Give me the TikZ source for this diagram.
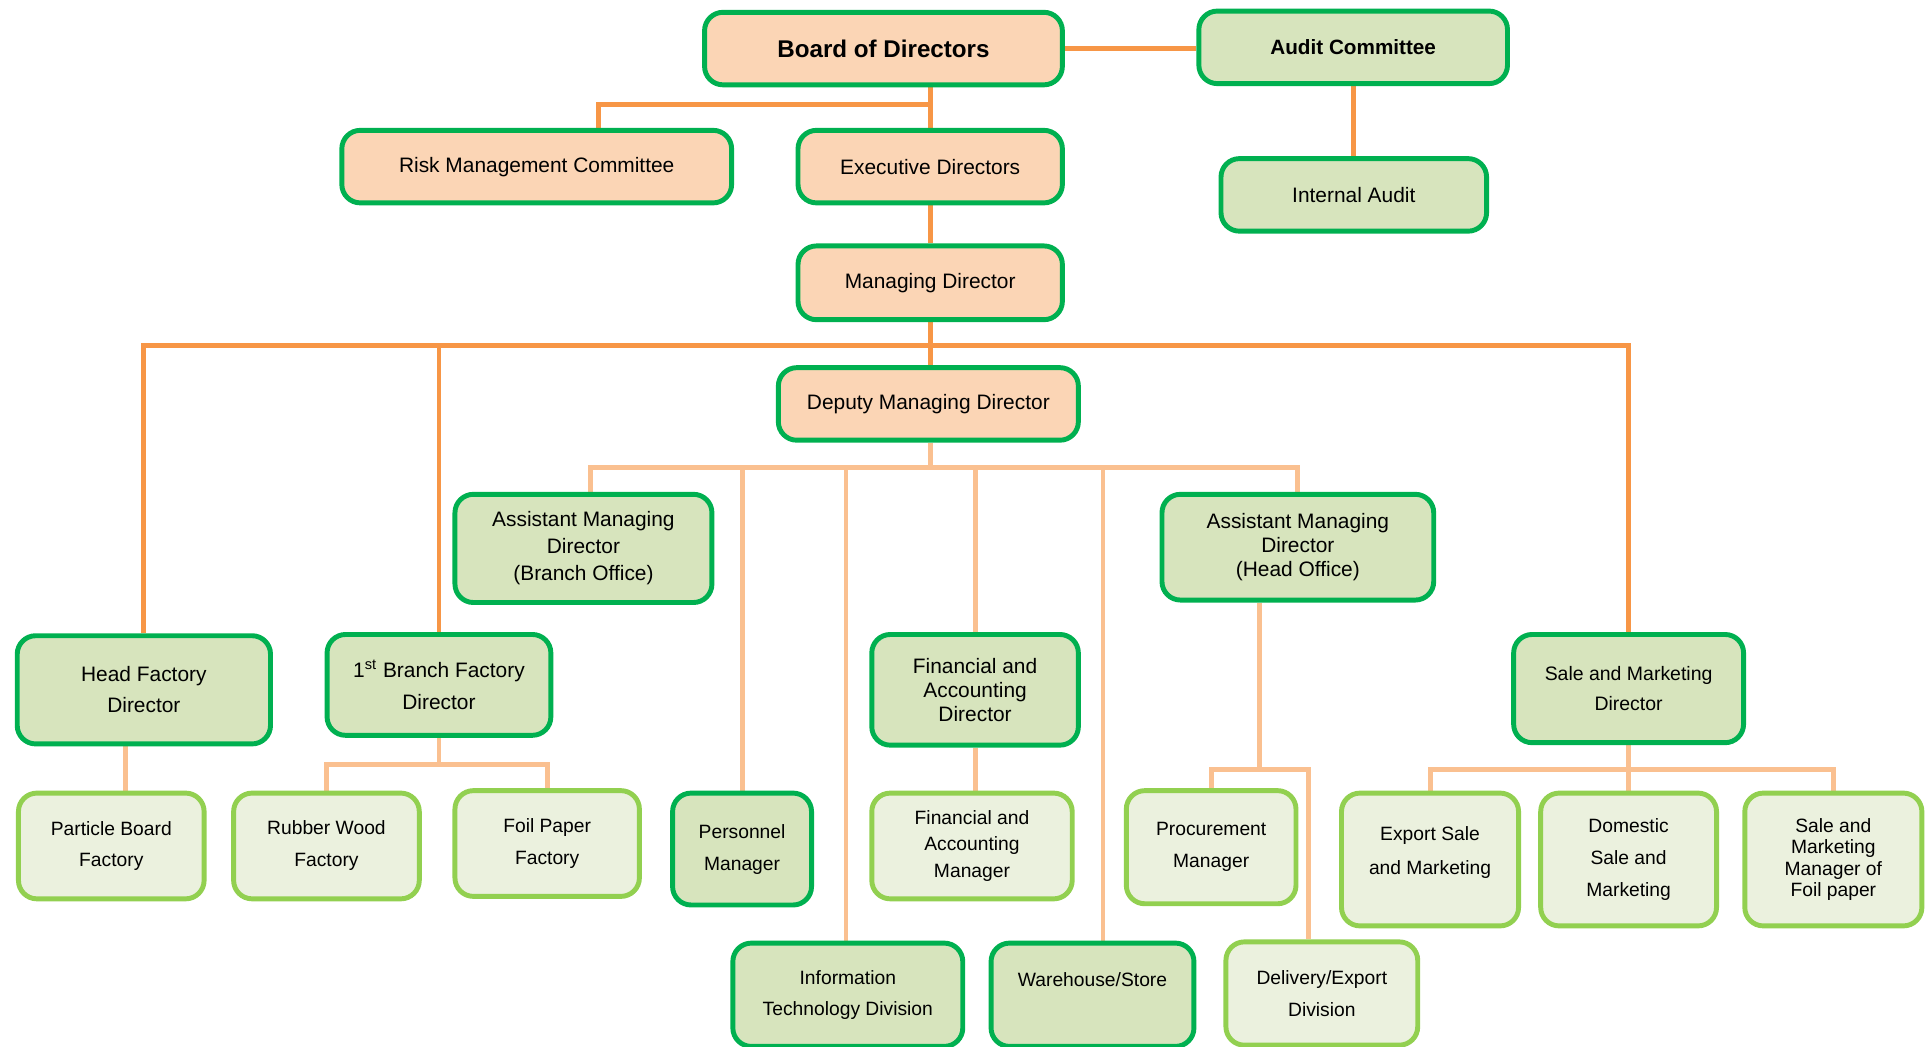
\documentclass[tikz,border=0pt]{standalone}
\usepackage{fontspec}
\setmainfont{Liberation Sans}
\usetikzlibrary{calc, backgrounds, positioning}

\definecolor{boxpeach}{HTML}{FBD5B5}
\definecolor{boxolive}{HTML}{D7E4BD}
\definecolor{boxpale}{HTML}{EBF1DE}
\definecolor{rimdark}{HTML}{00B050}
\definecolor{rimlight}{HTML}{92D050}
\definecolor{linkdark}{HTML}{F79646}
\definecolor{linklight}{HTML}{FAC090}

\tikzset{
  box/.style = {rounded corners = 9pt, line width = 2.4pt, align = center,
    inner sep = 0pt, font = \fontsize{10.2pt}{13pt}\selectfont},
  sz/.style 2 args = {minimum width = (#1-4)*0.6pt, minimum height = (#2-4)*0.6pt},
  fs/.style 2 args = {font = \fontsize{#1pt}{#2pt}\selectfont},
  topbox/.style = {box, draw = rimdark, fill = boxpeach},
  midbox/.style = {box, draw = rimdark, fill = boxolive},
  lowbox/.style = {box, draw = rimlight, fill = boxpale},
  link/.style = {draw = linkdark, line width = 2.4pt},
  sublink/.style = {draw = linklight, line width = 2.4pt}
}

\begin{document}
\begin{tikzpicture}[x = 0.6pt, y = -0.6pt]
    \useasboundingbox (0,0) rectangle (1568,851);
    \clip (0,0) rectangle (1568,851);

    \node[topbox, sz = {295}{63}, font = \fontsize{11.8pt}{14pt}\selectfont\bfseries] (board) at (718.5,39.5) {Board of Directors};
    \node[midbox, sz = {255}{63}, font = \fontsize{10.1pt}{12pt}\selectfont\bfseries] (audit) at (1100.5,38.5) {Audit Committee};
    \node[topbox, sz = {321}{63}] (risk) at (436.5,135.5) {Risk Management Committee};
    \node[topbox, sz = {219}{63}] (exec) at (756.5,135.5) {Executive Directors};
    \node[midbox, sz = {220}{63}] (inaudit) at (1101,158.5) {Internal Audit};
    \node[topbox, sz = {219}{64}] (md) at (756.5,230) {Managing Director};
    \node[topbox, sz = {248}{63}] (dmd) at (755,328.5) {Deputy Managing Director};

    \node[midbox, sz = {213}{92}, fs = {10.2}{13.2}] (amdb) at (474.5,446) {Assistant Managing\\Director\\(Branch Office)};
    \node[midbox, sz = {225}{90}, fs = {10.2}{11.7}] (amdh) at (1055.5,445) {Assistant Managing\\Director\\(Head Office)};
    \node[midbox, sz = {210}{92}, fs = {10.2}{15}] (hfd) at (117,561) {Head Factory\\Director};
    \node[midbox, sz = {186}{86}, fs = {10.2}{15.6}] (bfd) at (357,557) {1\textsuperscript{st} Branch Factory\\Director};
    \node[midbox, sz = {172}{94}, fs = {10.2}{11.7}] (fad) at (793,561) {Financial and\\Accounting\\Director};
    \node[midbox, sz = {191}{92}, fs = {9.5}{15}] (smd) at (1324.5,560) {Sale and Marketing\\Director};

    \node[lowbox, sz = {155}{90}, fs = {9.4}{15}] (pbf) at (90.5,688) {Particle Board\\Factory};
    \node[lowbox, sz = {155}{90}, fs = {9.4}{15.6}] (rwf) at (265.5,688) {Rubber Wood\\Factory};
    \node[lowbox, sz = {154}{90}, fs = {9.4}{15.6}] (fpf) at (445,686) {Foil Paper\\Factory};
    \node[midbox, sz = {117}{95}, fs = {9.4}{15.6}] (pm) at (603.5,690.5) {Personnel\\Manager};
    \node[lowbox, sz = {167}{90}, fs = {9.4}{12.9}] (fam) at (790.5,688) {Financial and\\Accounting\\Manager};
    \node[lowbox, sz = {142}{96}, fs = {9.4}{15.6}] (proc) at (985,689) {Procurement\\Manager};
    \node[lowbox, sz = {148}{112}, fs = {9.4}{16.8}] (exsm) at (1163,699) {Export Sale\\and Marketing\\[-8pt]\mbox{}};
    \node[lowbox, sz = {147}{112}, fs = {9.4}{15.6}] (dsm) at (1324.5,699) {Domestic\\Sale and\\Marketing};
    \node[lowbox, sz = {148}{112}, fs = {9.4}{10.4}] (smf) at (1491,699) {Sale and\\Marketing\\Manager of\\Foil paper};
    \node[midbox, sz = {191}{88}, fs = {9.4}{15}] (itd) at (689.5,809) {Information\\Technology Division};
    \node[midbox, sz = {169}{88}, fs = {9.4}{15}] (whs) at (888.5,809) {Warehouse/Store\\\mbox{}};
    \node[lowbox, sz = {160}{88}, fs = {9.4}{15.6}] (dex) at (1075,808) {Delivery/Export\\Division};

    \coordinate (topbus) at (757,85);
    \coordinate (mdbus) at (757,281);
    \coordinate (dmdbus) at (757,380);
    \coordinate (bfdbus) at (357,622);
    \coordinate (amdhbus) at (1024,626);
    \coordinate (smdbus) at (1325,626);
    \path (hfd.south) ++(-15,0) coordinate (hfdout);

    \begin{scope}[on background layer]
      \draw[link] (board.east) -- (board.east -| audit.west);
      \draw[link] (inaudit.north) -- (inaudit.north |- audit.south);
      \draw[link] (exec.north) -- (exec.north |- board.south);
      \draw[link] (exec.north |- topbus) -| ($(risk.north) + (50.5,0)$);
      \draw[link] (exec.south) -- (md.north);
      \draw[link] (md.south) -- (md.south |- dmd.north);
      \draw[link] (hfd.north) |- (mdbus) -| (smd.north);
      \draw[link] (bfd.north) -- (bfd.north |- mdbus);

      \draw[sublink] (dmdbus |- dmd.south) -- (dmdbus);
      \draw[sublink] ($(amdb.north) + (5.5,0)$) |- (dmdbus) -| (amdh.north);
      \draw[sublink] (pm.north) -- (pm.north |- dmdbus);
      \draw[sublink] ($(itd.north) + (-1.5,0)$) -- ($(itd.north) + (-1.5,-385)$);
      \draw[sublink] (fad.north) -- (fad.north |- dmdbus);
      \draw[sublink] ($(whs.north) + (8.5,0)$) -- ($(whs.north) + (8.5,-385)$);
      \draw[sublink] (fad.south) -- (fad.south |- fam.north);

      \draw[sublink] (hfdout) -- (hfdout |- pbf.north);
      \draw[sublink] (bfd.south) -- (bfdbus);
      \draw[sublink] (rwf.north) |- (bfdbus) -| (fpf.north);

      \draw[sublink] (amdhbus |- amdh.south) -- (amdhbus);
      \draw[sublink] (proc.north) |- (amdhbus) -| ($(dex.north) + (-11,0)$);

      \draw[sublink] (smd.south) -- (dsm.north);
      \draw[sublink] (exsm.north) |- (smdbus) -| (smf.north);
    \end{scope}
\end{tikzpicture}
\end{document}
